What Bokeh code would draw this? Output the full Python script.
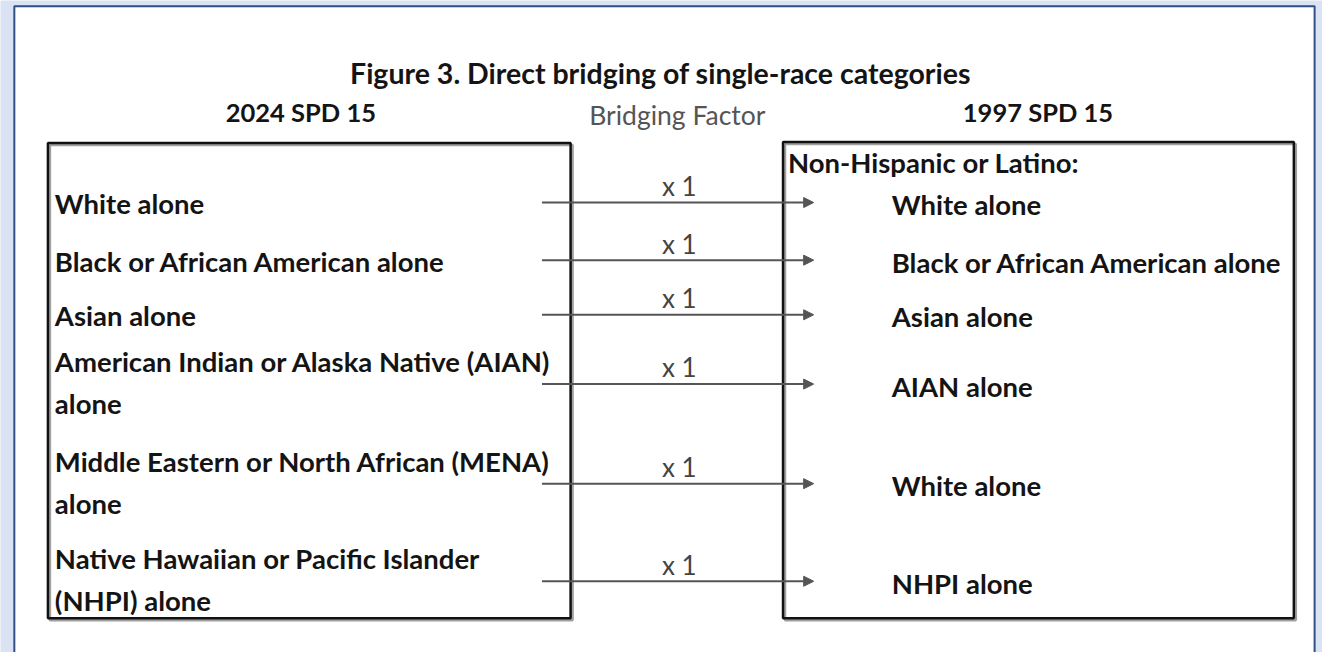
from bokeh.plotting import figure
from bokeh.models import Range1d, ColumnDataSource, Arrow, NormalHead
from bokeh.core.properties import value
from bokeh.embed import file_html
from bokeh.resources import INLINE

# ---------------- content ----------------
title_text = "Figure 3. Direct bridging of single-race categories"
left_header = "2024 SPD 15"
mid_header = "Bridging Factor"
right_header = "1997 SPD 15"
right_group = "Non-Hispanic or Latino:"

categories_2024 = [
    ["White alone"],
    ["Black or African American alone"],
    ["Asian alone"],
    ["American Indian or Alaska Native (AIAN)", "alone"],
    ["Middle Eastern or North African (MENA)", "alone"],
    ["Native Hawaiian or Pacific Islander", "(NHPI) alone"],
]
categories_1997 = [
    "White alone",
    "Black or African American alone",
    "Asian alone",
    "AIAN alone",
    "White alone",
    "NHPI alone",
]
bridging_factor = [1, 1, 1, 1, 1, 1]

# ---------------- layout (reference-image coordinates) ----------------
W, H = 1322, 652
REF_W, REF_H = 1338, 668
row_y = [207, 266, 322, 393, 495, 595]
line_gap = 43
left_box = dict(l=48, r=577, t=146, b=633)
right_box = dict(l=792, r=1309, t=145, b=633)
arrow_x0, arrow_x1 = 548, 823
mid_x = 687

FONT = "Lato"
BODY_SIZE = "27.5px"
INK = "#141414"

p = figure(width=W, height=H, output_backend="svg", toolbar_location=None,
           x_range=Range1d(0, REF_W), y_range=Range1d(REF_H, 0),
           x_axis_location=None, y_axis_location=None, min_border=0)
p.grid.visible = False
p.outline_line_color = None
p.background_fill_color = "#dae3f3"
p.border_fill_color = "#dae3f3"

# outer white frame with dark-blue border
p.quad(left=[14], right=[1330], top=[6], bottom=[720], fill_color="white",
       line_color="#2f4f85", line_width=2)

# boxes (with faint shadow)
for bx in (left_box, right_box):
    p.quad(left=[bx["l"] + 2], right=[bx["r"] + 2], top=[bx["t"] + 2], bottom=[bx["b"] + 2],
           fill_color=None, line_color="#a0a0a0", line_width=2.5)
    p.quad(left=[bx["l"]], right=[bx["r"]], top=[bx["t"]], bottom=[bx["b"]],
           fill_color=None, line_color="#111111", line_width=2.5)

# title and headers
p.text(x=[668], y=[74], text=[title_text], text_font=value(FONT), text_font_style="bold",
       text_font_size="28.5px", text_align="center", text_baseline="middle", text_color=INK)
p.text(x=[304, 1050], y=[114, 114], text=[left_header, right_header], text_font=value(FONT),
       text_font_style="bold", text_font_size="25.5px", text_align="center",
       text_baseline="middle", text_color=INK)
p.text(x=[685], y=[117], text=[mid_header], text_font=value(FONT),
       text_font_size="26.5px", text_align="center", text_baseline="middle", text_color="#555555")

# left column text
lx, ly, lt = [], [], []
for cat, y in zip(categories_2024, row_y):
    if len(cat) == 1:
        lx.append(55); ly.append(y + 1); lt.append(cat[0])
    else:
        for k, line in enumerate(cat):
            lx.append(55); ly.append(y - 23 + k * line_gap); lt.append(line)
p.text(x=lx, y=ly, text=lt, text_font=value(FONT), text_font_style="bold",
       text_font_size=BODY_SIZE, text_align="left", text_baseline="middle", text_color=INK)

# right column text
p.text(x=[797], y=[166], text=[right_group], text_font=value(FONT), text_font_style="bold",
       text_font_size=BODY_SIZE, text_align="left", text_baseline="middle", text_color=INK)
p.text(x=[902] * len(categories_1997), y=[y + 2 for y in row_y], text=categories_1997,
       text_font=value(FONT), text_font_style="bold", text_font_size=BODY_SIZE,
       text_align="left", text_baseline="middle", text_color=INK)

# bridging factor labels
p.text(x=[mid_x] * len(bridging_factor), y=[y - 17 for y in row_y],
       text=[f"x {f}" for f in bridging_factor], text_font=value(FONT),
       text_font_size="26px", text_align="center", text_baseline="middle", text_color="#444444")

# arrows
src = ColumnDataSource(dict(x0=[arrow_x0] * len(row_y), x1=[arrow_x1] * len(row_y), y=row_y))
p.add_layout(Arrow(end=NormalHead(size=10, fill_color="#555555", line_color="#555555", line_width=1),
                   x_start="x0", y_start="y", x_end="x1", y_end="y", source=src,
                   line_color="#555555", line_width=2))

open("out.html", "w").write(file_html(p, INLINE))
